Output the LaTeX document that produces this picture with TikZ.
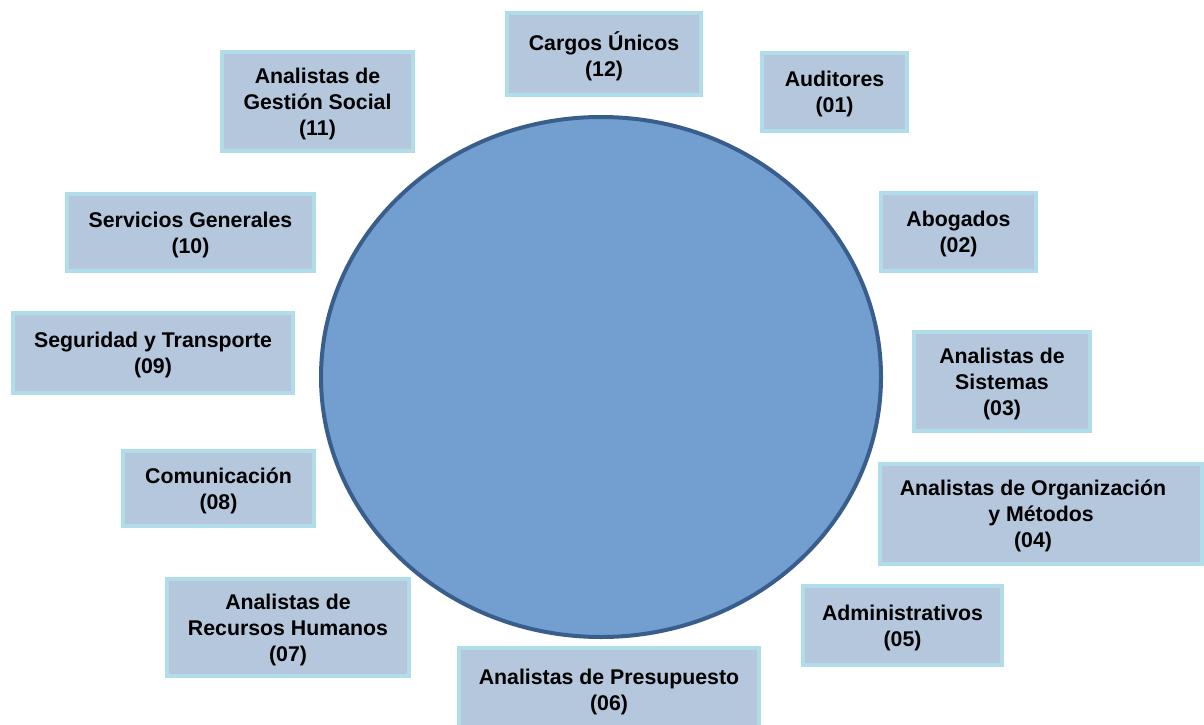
\documentclass[tikz,border=0pt]{standalone}
\usepackage{fontspec}
\setmainfont{Liberation Sans}
\usepackage{tikz}
\usetikzlibrary{shapes.geometric}

\definecolor{circfill}{HTML}{729FCF}
\definecolor{circline}{HTML}{3A5E8C}
\definecolor{boxfill}{HTML}{B4C7DC}
\definecolor{boxline}{HTML}{B0DDE8}

\tikzset{
  cargo/.style={draw=boxline, fill=boxfill, line width=4pt, align=center,
    font=\fontsize{21.3}{26}\selectfont\bfseries, inner sep=0pt, text depth=-3pt}
}

\begin{document}
\begin{tikzpicture}[x=1pt,y=-1pt]
\useasboundingbox (0,0) rectangle (1204,725);
	% puestos
	\node[cargo, minimum width=194pt, minimum height=82pt] (unicos) at (604,54) {Cargos Únicos\\(12)};
	\node[cargo, minimum width=145pt, minimum height=78pt] (auditores) at (834.5,92) {Auditores\\(01)};
	\node[cargo, minimum width=191pt, minimum height=99pt] (social) at (317.5,101.5) {Analistas de\\Gestión Social\\(11)};
	\node[cargo, minimum width=247pt, minimum height=77pt] (generales) at (190.5,232.5) {Servicios Generales\\(10)};
	\node[cargo, minimum width=155pt, minimum height=78pt] (abogados) at (958.5,232) {Abogados\\(02)};
	\node[cargo, minimum width=280pt, minimum height=80pt] (seguridad) at (153,353) {Seguridad y Transporte\\(09)};
	\node[cargo, minimum width=176pt, minimum height=99pt] (sistemas) at (1002,381.5) {Analistas de\\Sistemas\\(03)};
	\node[cargo, minimum width=191pt, minimum height=75pt] (comunicacion) at (218.5,488.5) {Comunicación\\(08)};
	\node[cargo, minimum width=322pt, minimum height=100pt] (organizacion) at (1041,514) {Analistas de Organización\hspace*{16pt}\\y Métodos\hspace*{16pt}\\(04)\hspace*{16pt}};
	\node[cargo, minimum width=199pt, minimum height=79pt] (administrativos) at (902.5,625.5) {Administrativos\\(05)};
	\node[cargo, minimum width=242pt, minimum height=97pt] (humanos) at (288,627.5) {Analistas de\\Recursos Humanos\\(07)};
	\node[cargo, minimum width=300pt, minimum height=84pt] (presupuesto) at (609,690) {Analistas de Presupuesto\\(06)};
	% centro
	\node[ellipse, draw=circline, fill=circfill, line width=4pt, minimum width=560pt, minimum height=520pt, inner sep=0pt] (centro) at (601,377) {};
\end{tikzpicture}
\end{document}
